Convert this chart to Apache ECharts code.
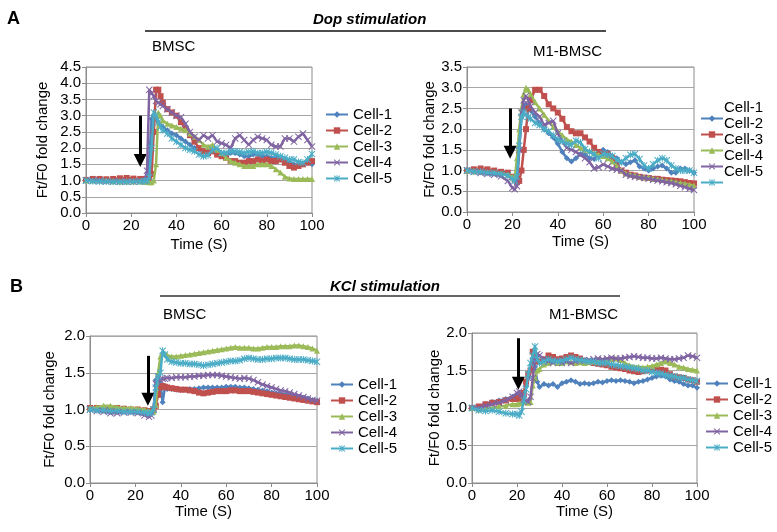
<!DOCTYPE html>
<html>
<head>
<meta charset="utf-8">
<script src="https://cdn.jsdelivr.net/npm/echarts@6/dist/echarts.min.js"></script>
<style>
  html, body { margin: 0; padding: 0; background: #fff; }
  #main { width: 777px; height: 532px; }
</style>
</head>
<body>
<div id="main"></div>
<script>
// cell names + excel-ish palette
const cellNames = ['Cell-1', 'Cell-2', 'Cell-3', 'Cell-4', 'Cell-5'];
const colors = ['#4F81BD', '#C0504D', '#9BBB59', '#8064A2', '#4BACC6'];
const xTicks = [0, 20, 40, 60, 80, 100];

// A - Dop stimulation, BMSC
const tA1 = [0,3,6,9,12,15,18,21,24,26,27,28,29,30,31,32,33,34,36,38,40,42,44,46,48,50,52,54,56,58,60,62,64,66,68,70,72,74,76,78,80,82,84,86,88,90,92,94,96,98,100];
const a1Cell1 = [1.00,1.00,0.98,0.97,0.96,0.95,0.95,0.97,0.98,1.00,1.10,1.60,2.90,3.00,2.90,2.80,2.70,2.65,2.55,2.45,2.40,2.30,2.20,2.10,2.00,1.95,1.90,1.90,1.95,1.90,1.80,1.80,1.85,1.85,1.80,1.75,1.75,1.80,1.80,1.75,1.75,1.70,1.70,1.65,1.60,1.55,1.50,1.45,1.50,1.55,1.50];
const a1Cell2 = [1.02,1.05,1.05,1.04,1.05,1.07,1.08,1.06,1.05,1.05,1.05,1.05,1.20,2.50,3.80,3.80,3.60,3.40,3.20,3.10,3.00,2.80,2.60,2.40,2.20,2.00,1.90,1.85,1.90,1.80,1.75,1.70,1.60,1.60,1.55,1.55,1.60,1.60,1.65,1.60,1.65,1.60,1.60,1.65,1.55,1.45,1.40,1.45,1.50,1.55,1.60];
const a1Cell3 = [1.00,1.00,1.00,1.00,0.98,0.97,0.97,0.97,0.97,0.96,0.96,0.95,0.95,1.00,1.50,3.10,3.00,2.85,2.75,2.70,2.65,2.60,2.55,2.45,2.35,2.25,2.10,2.05,2.10,1.95,1.85,1.70,1.60,1.55,1.50,1.45,1.45,1.45,1.50,1.50,1.50,1.45,1.35,1.25,1.12,1.06,1.05,1.05,1.05,1.05,1.05];
const a1Cell4 = [1.00,1.00,1.00,0.98,0.97,0.97,0.97,0.97,0.98,1.00,1.30,3.80,3.70,3.60,3.45,3.40,3.35,3.30,3.20,3.10,3.00,2.95,2.75,2.50,2.35,2.25,2.40,2.30,2.40,2.20,2.15,2.10,2.00,2.30,2.40,2.25,2.10,2.25,2.35,2.30,2.25,2.10,2.05,2.05,2.30,2.30,2.20,2.35,2.45,2.25,2.05];
const a1Cell5 = [1.00,0.98,0.97,0.97,0.96,0.96,0.96,0.97,0.97,0.98,1.00,1.10,2.00,3.10,3.00,2.80,2.65,2.55,2.45,2.30,2.20,2.10,2.00,1.95,1.90,1.80,1.75,1.78,1.95,2.00,1.85,1.85,1.90,1.90,1.88,1.85,1.88,1.90,1.85,1.85,1.88,1.85,1.80,1.75,1.70,1.65,1.65,1.57,1.55,1.65,1.82];
const arrowA1 = [24, 3.0, 1.62];

// A - Dop stimulation, M1-BMSC
const tA2 = [0,3,6,9,12,15,18,20,21,22,23,24,25,26,27,28,30,32,34,36,38,40,42,44,46,48,50,52,54,56,58,60,62,64,66,68,70,72,74,76,78,80,82,84,86,88,90,92,94,96,98,100];
const a2Cell1 = [1.00,1.00,0.98,0.97,0.95,0.93,0.90,0.85,0.80,0.85,1.50,2.30,2.50,2.60,2.55,2.45,2.30,2.15,2.00,1.90,1.80,1.65,1.45,1.30,1.22,1.30,1.40,1.38,1.30,1.28,1.40,1.50,1.45,1.35,1.30,1.20,1.15,1.20,1.25,1.10,1.05,1.00,1.05,1.10,1.12,1.05,0.95,0.95,1.05,1.05,1.00,0.95];
const a2Cell2 = [1.00,1.03,1.05,1.03,1.00,0.97,0.95,0.85,0.78,0.72,0.75,1.00,1.50,2.00,2.50,2.70,2.95,2.95,2.80,2.60,2.50,2.40,2.25,2.05,1.95,1.90,1.90,1.80,1.70,1.55,1.45,1.40,1.40,1.30,1.15,1.00,0.95,0.90,0.88,0.85,0.83,0.82,0.80,0.80,0.78,0.77,0.76,0.75,0.74,0.72,0.70,0.69];
const a2Cell3 = [1.00,0.98,0.97,0.96,0.95,0.93,0.90,0.85,0.80,1.30,2.00,2.50,2.85,3.00,2.95,2.85,2.65,2.50,2.35,2.20,2.05,1.95,1.85,1.75,1.70,1.62,1.55,1.50,1.47,1.42,1.38,1.35,1.30,1.22,1.10,1.00,0.93,0.90,0.88,0.85,0.84,0.83,0.80,0.79,0.77,0.75,0.74,0.72,0.70,0.68,0.66,0.64];
const a2Cell4 = [1.00,0.97,0.94,0.92,0.90,0.86,0.75,0.58,0.55,0.62,1.50,2.40,2.70,2.80,2.70,2.55,2.40,2.30,2.10,2.15,2.20,1.90,1.70,1.55,1.50,1.45,1.38,1.30,1.20,1.05,1.08,1.15,1.10,1.05,1.02,1.00,0.90,0.87,0.85,0.83,0.82,0.80,0.78,0.76,0.74,0.72,0.70,0.67,0.63,0.60,0.56,0.53];
const a2Cell5 = [1.00,0.98,0.97,0.95,0.94,0.92,0.88,0.80,0.75,0.85,1.60,2.30,2.40,2.35,2.30,2.25,2.15,2.10,2.00,1.95,1.85,1.75,1.70,1.65,1.62,1.72,1.68,1.52,1.45,1.40,1.30,1.40,1.38,1.35,1.25,1.20,1.30,1.38,1.40,1.28,1.12,1.05,1.15,1.25,1.30,1.25,1.12,1.05,1.00,1.00,1.00,0.95];
const arrowA2 = [19, 2.5, 1.44];

// B - KCl stimulation, BMSC
const tB1 = [0,3,6,9,12,15,18,21,24,26,27,28,29,30,31,32,33,34,36,38,40,42,44,46,48,50,52,54,56,58,60,62,64,66,68,70,72,74,76,78,80,82,84,86,88,90,92,94,96,98,100];
const b1Cell1 = [1.00,1.00,1.00,0.99,0.98,0.98,0.97,0.97,0.97,0.97,0.98,1.00,1.40,1.45,1.35,1.10,1.30,1.28,1.28,1.27,1.27,1.27,1.28,1.28,1.29,1.30,1.30,1.30,1.30,1.30,1.31,1.31,1.31,1.30,1.30,1.29,1.28,1.27,1.26,1.25,1.23,1.22,1.21,1.20,1.19,1.18,1.17,1.16,1.15,1.13,1.12];
const b1Cell2 = [1.02,1.02,1.02,1.02,1.02,1.01,1.00,1.00,0.99,0.98,0.98,1.00,1.05,1.20,1.30,1.32,1.31,1.30,1.29,1.28,1.27,1.27,1.26,1.25,1.23,1.22,1.23,1.24,1.25,1.25,1.25,1.26,1.26,1.25,1.25,1.25,1.24,1.23,1.22,1.21,1.20,1.19,1.18,1.17,1.16,1.15,1.14,1.13,1.12,1.11,1.10];
const b1Cell3 = [1.02,1.03,1.05,1.05,1.03,1.02,1.02,1.01,1.00,0.98,0.97,0.97,1.06,1.50,1.72,1.78,1.76,1.74,1.72,1.72,1.73,1.74,1.75,1.76,1.77,1.78,1.79,1.80,1.81,1.82,1.83,1.84,1.85,1.84,1.84,1.84,1.83,1.83,1.84,1.85,1.85,1.85,1.86,1.86,1.86,1.87,1.87,1.86,1.85,1.83,1.80];
const b1Cell4 = [1.00,0.98,0.97,0.95,0.95,0.96,0.96,0.95,0.92,0.90,0.92,1.00,1.35,1.45,1.40,1.42,1.42,1.43,1.43,1.44,1.44,1.44,1.45,1.45,1.46,1.46,1.47,1.47,1.47,1.46,1.45,1.44,1.43,1.42,1.43,1.42,1.40,1.37,1.34,1.32,1.30,1.28,1.26,1.25,1.23,1.21,1.19,1.17,1.15,1.13,1.12];
const b1Cell5 = [1.00,0.99,0.99,0.98,0.98,0.97,0.97,0.97,0.96,0.95,0.96,1.00,1.30,1.45,1.50,1.80,1.75,1.68,1.65,1.64,1.63,1.63,1.62,1.62,1.61,1.60,1.61,1.62,1.63,1.64,1.65,1.66,1.66,1.67,1.69,1.70,1.69,1.68,1.68,1.69,1.69,1.70,1.70,1.70,1.69,1.68,1.68,1.68,1.67,1.66,1.65];
const arrowB1 = [25.5, 1.73, 1.14];

// B - KCl stimulation, M1-BMSC
const tB2 = [0,3,6,9,12,15,18,20,21,22,23,24,25,26,27,28,29,30,32,34,36,38,40,42,44,46,48,50,52,54,56,58,60,62,64,66,68,70,72,74,76,78,80,82,84,86,88,90,92,94,96,98,100];
const b2Cell1 = [1.00,1.02,1.05,1.08,1.10,1.12,1.15,1.18,1.15,1.15,1.20,1.30,1.40,1.50,1.65,1.55,1.35,1.28,1.32,1.30,1.32,1.28,1.33,1.35,1.37,1.35,1.32,1.33,1.32,1.33,1.35,1.34,1.36,1.37,1.36,1.37,1.36,1.35,1.33,1.35,1.36,1.38,1.40,1.42,1.43,1.42,1.38,1.36,1.35,1.32,1.30,1.30,1.27];
const b2Cell2 = [1.00,1.02,1.05,1.07,1.08,1.10,1.12,1.12,1.13,1.15,1.20,1.35,1.45,1.50,1.75,1.70,1.62,1.62,1.65,1.70,1.68,1.65,1.66,1.68,1.70,1.68,1.66,1.63,1.62,1.60,1.59,1.58,1.57,1.55,1.54,1.53,1.52,1.50,1.49,1.48,1.49,1.50,1.51,1.52,1.51,1.50,1.45,1.42,1.41,1.40,1.38,1.37,1.35];
const b2Cell3 = [1.00,0.98,1.00,1.00,1.02,1.03,1.05,1.05,1.06,1.07,1.08,1.08,1.07,1.08,1.30,1.40,1.50,1.52,1.58,1.60,1.62,1.60,1.60,1.62,1.61,1.60,1.61,1.60,1.61,1.62,1.62,1.63,1.64,1.65,1.66,1.64,1.60,1.57,1.55,1.55,1.54,1.55,1.56,1.58,1.60,1.62,1.60,1.58,1.55,1.54,1.52,1.51,1.50];
const b2Cell4 = [1.00,1.00,1.03,1.05,1.07,1.10,1.15,1.20,1.22,1.18,1.12,1.10,1.08,1.15,1.40,1.65,1.72,1.70,1.65,1.62,1.60,1.63,1.60,1.62,1.60,1.62,1.63,1.63,1.64,1.65,1.66,1.65,1.66,1.67,1.66,1.66,1.67,1.68,1.69,1.68,1.67,1.67,1.66,1.66,1.67,1.66,1.65,1.65,1.66,1.67,1.70,1.69,1.67];
const b2Cell5 = [1.00,0.97,0.96,0.97,0.95,0.93,0.92,0.92,0.90,0.95,1.10,1.25,1.45,1.60,1.70,1.82,1.65,1.60,1.62,1.65,1.63,1.62,1.63,1.65,1.67,1.65,1.64,1.63,1.62,1.62,1.60,1.60,1.60,1.58,1.57,1.56,1.55,1.54,1.53,1.52,1.50,1.50,1.48,1.47,1.46,1.44,1.43,1.42,1.40,1.40,1.38,1.37,1.36];
const arrowB2 = [20.6, 1.93, 1.33];

// marker shapes: diamond, square, triangle, x, star(asterisk)
const xPath = 'path://M0,1L1,0L5,4L9,0L10,1L6,5L10,9L9,10L5,6L1,10L0,9L4,5Z';
const starPath = 'path://M0,1L1,0L5,4L9,0L10,1L6,5L10,9L9,10L5,6L1,10L0,9L4,5Z M4.3,0L5.7,0L5.7,10L4.3,10Z';
const symbols = ['diamond', 'rect', 'triangle', xPath, starPath];

const FONT = 'Liberation Sans, Arial, sans-serif';

const panels = [
  { t: tA1, cells: [a1Cell1, a1Cell2, a1Cell3, a1Cell4, a1Cell5], yMax: 4.5, arrow: arrowA1,
    grid: { left: 86, top: 67, width: 226, height: 146 }, yGap: 36, xGap: 24,
    legend: { left: 325, top: 107 } },
  { t: tA2, cells: [a2Cell1, a2Cell2, a2Cell3, a2Cell4, a2Cell5], yMax: 3.5, arrow: arrowA2,
    grid: { left: 467, top: 67, width: 227, height: 145 }, yGap: 30, xGap: 22,
    legend: { left: 700, top: 111 }, shifted: true },
  { t: tB1, cells: [b1Cell1, b1Cell2, b1Cell3, b1Cell4, b1Cell5], yMax: 2.0, arrow: arrowB1,
    grid: { left: 90, top: 336, width: 227, height: 147 }, yGap: 33, xGap: 21,
    legend: { left: 330, top: 377 } },
  { t: tB2, cells: [b2Cell1, b2Cell2, b2Cell3, b2Cell4, b2Cell5], yMax: 2.0, arrow: arrowB2,
    grid: { left: 472, top: 333, width: 225, height: 150 }, yGap: 28, xGap: 21,
    legend: { left: 705, top: 376 } }
];

const grids = [], xAxes = [], yAxes = [], legends = [], series = [];
const legendText = { color: '#000', fontSize: 15, fontFamily: FONT };

panels.forEach(function (p, i) {
  grids.push(Object.assign({ show: true, borderColor: '#8c8c8c', borderWidth: 1 }, p.grid));
  xAxes.push({
    type: 'value', gridIndex: i, min: 0, max: 100, interval: 20,
    name: 'Time (S)', nameLocation: 'middle', nameGap: p.xGap,
    nameTextStyle: { color: '#000', fontSize: 15, fontFamily: FONT },
    axisLine: { lineStyle: { color: '#8c8c8c' } },
    axisTick: { show: true, length: 4, lineStyle: { color: '#8c8c8c' } },
    axisLabel: { color: '#000', fontSize: 15, fontFamily: FONT, margin: 5 },
    splitLine: { show: false }
  });
  yAxes.push({
    type: 'value', gridIndex: i, min: 0, max: p.yMax, interval: 0.5,
    name: 'Ft/F0 fold change', nameLocation: 'middle', nameGap: p.yGap,
    nameTextStyle: { color: '#000', fontSize: 15, fontFamily: FONT },
    axisLine: { show: true, lineStyle: { color: '#8c8c8c' } },
    axisTick: { show: true, length: 4, lineStyle: { color: '#8c8c8c' } },
    axisLabel: { color: '#000', fontSize: 15, fontFamily: FONT, margin: 5,
      formatter: function (v) { return v.toFixed(1); } },
    splitLine: { show: true, lineStyle: { color: '#a6a6a6', width: 1 } }
  });
  if (p.shifted) {
    // this legend's labels sit about 11px above their markers
    legends.push({
      orient: 'vertical', left: p.legend.left, top: p.legend.top, padding: 0,
      itemWidth: 22, itemHeight: 8, itemGap: 1, data: cellNames,
      formatter: function () { return ' '; }, textStyle: legendText
    });
    legends.push({
      orient: 'vertical', left: p.legend.left - 4, top: p.legend.top - 11, padding: 0,
      itemWidth: 22, itemHeight: 8, itemGap: 1, data: cellNames,
      itemStyle: { opacity: 0 }, lineStyle: { opacity: 0 }, textStyle: legendText
    });
  } else {
    legends.push({
      orient: 'vertical', left: p.legend.left, top: p.legend.top, padding: 0,
      itemWidth: 22, itemHeight: 8, itemGap: 1, data: cellNames, textStyle: legendText
    });
  }
  p.cells.forEach(function (vals, k) {
    const s = {
      name: cellNames[k], type: 'line', xAxisIndex: i, yAxisIndex: i,
      data: p.t.map(function (x, j) { return [x, vals[j]]; }),
      color: colors[k], symbol: symbols[k], symbolSize: k >= 3 ? 7 : 6,
      showSymbol: true, lineStyle: { width: 2.5 }, z: 2 + k
    };
    if (k === 4) {
      // stimulation arrow
      s.markLine = {
        silent: true, symbol: ['none', 'triangle'], symbolSize: 13,
        label: { show: false },
        lineStyle: { color: '#000', width: 3, type: 'solid' },
        data: [[{ coord: [p.arrow[0], p.arrow[1]] }, { coord: [p.arrow[0], p.arrow[2]] }]]
      };
    }
    series.push(s);
  });
});

const chart = echarts.init(document.getElementById('main'));
chart.setOption({
  animation: false,
  backgroundColor: '#fff',
  title: [
    { text: 'A', left: 7, top: 10, padding: 0, textStyle: { fontSize: 18, fontWeight: 'bold', color: '#000', fontFamily: FONT } },
    { text: 'Dop stimulation', left: 313, top: 12, padding: 0, textStyle: { fontSize: 15, fontWeight: 'bold', fontStyle: 'italic', color: '#000', fontFamily: FONT } },
    { text: 'BMSC', left: 152, top: 39, padding: 0, textStyle: { fontSize: 15, fontWeight: 'normal', color: '#000', fontFamily: FONT } },
    { text: 'M1-BMSC', left: 533, top: 44, padding: 0, textStyle: { fontSize: 15, fontWeight: 'normal', color: '#000', fontFamily: FONT } },
    { text: 'B', left: 10, top: 278, padding: 0, textStyle: { fontSize: 18, fontWeight: 'bold', color: '#000', fontFamily: FONT } },
    { text: 'KCl stimulation', left: 330, top: 279, padding: 0, textStyle: { fontSize: 15, fontWeight: 'bold', fontStyle: 'italic', color: '#000', fontFamily: FONT } },
    { text: 'BMSC', left: 163, top: 307, padding: 0, textStyle: { fontSize: 15, fontWeight: 'normal', color: '#000', fontFamily: FONT } },
    { text: 'M1-BMSC', left: 549, top: 307, padding: 0, textStyle: { fontSize: 15, fontWeight: 'normal', color: '#000', fontFamily: FONT } }
  ],
  graphic: [
    { type: 'line', shape: { x1: 145, y1: 31, x2: 606, y2: 31 }, style: { stroke: '#111', lineWidth: 1.5 } },
    { type: 'line', shape: { x1: 160, y1: 296, x2: 620, y2: 296 }, style: { stroke: '#333', lineWidth: 1.5 } }
  ],
  grid: grids,
  xAxis: xAxes,
  yAxis: yAxes,
  legend: legends,
  series: series
});
</script>
</body>
</html>
